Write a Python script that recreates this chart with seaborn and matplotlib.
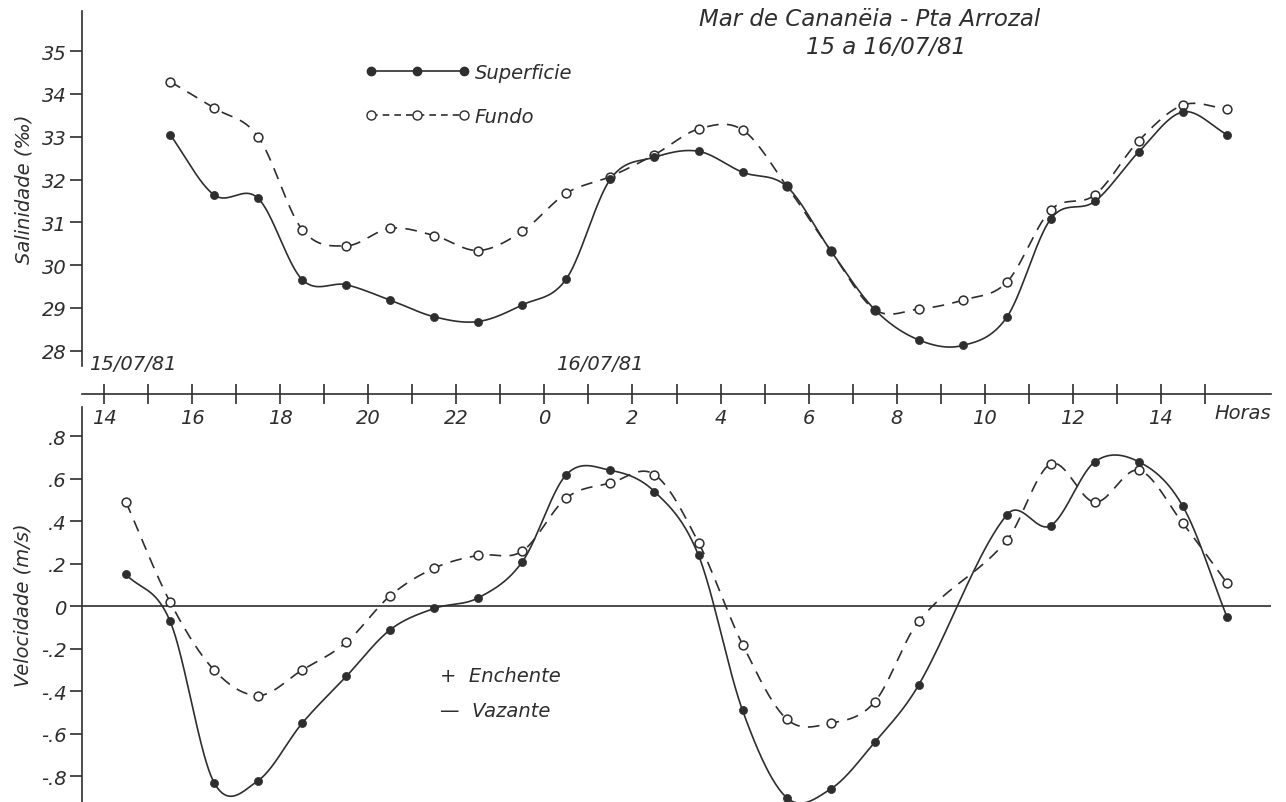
import numpy as np
import matplotlib
matplotlib.use("Agg")
import matplotlib.pyplot as plt
import seaborn as sns
from matplotlib.lines import Line2D

# Hours counted from 14:00 of 15/07/81; readings at half past each hour
hours_sal = np.arange(1.5, 26.0, 1.0)
sal_superficie = [33.05, 31.64, 31.56, 29.66, 29.54, 29.18, 28.79, 28.68, 29.07,
                  29.68, 32.01, 32.52, 32.66, 32.17, 31.84, 30.34, 28.96, 28.25,
                  28.12, 28.78, 31.08, 31.49, 32.65, 33.58, 33.05]
sal_fundo = [34.29, 33.67, 33.00, 30.83, 30.45, 30.86, 30.69, 30.34, 30.79,
             31.68, 32.07, 32.58, 33.18, 33.16, 31.85, 30.34, 28.96, 28.97,
             29.18, 29.60, 31.29, 31.64, 32.91, 33.74, 33.65]

hours_vel = np.arange(0.5, 26.0, 1.0)
vel_superficie = [0.15, -0.07, -0.83, -0.82, -0.55, -0.33, -0.11, -0.01, 0.04,
                  0.21, 0.62, 0.64, 0.54, 0.24, -0.49, -0.90, -0.86, -0.64,
                  -0.37, np.nan, 0.43, 0.38, 0.68, 0.68, 0.47, -0.05]
vel_fundo = [0.49, 0.02, -0.30, -0.42, -0.30, -0.17, 0.05, 0.18, 0.24,
             0.26, 0.51, 0.58, 0.62, 0.30, -0.18, -0.53, -0.55, -0.45,
             -0.07, np.nan, 0.31, 0.67, 0.49, 0.64, 0.39, 0.11]

hour_ticks = list(range(0, 25, 2))
hour_labels = ["14", "16", "18", "20", "22", "0", "2", "4", "6", "8", "10", "12", "14"]
sal_ticks = list(range(28, 36))
vel_ticks = [-0.8, -0.6, -0.4, -0.2, 0.0, 0.2, 0.4, 0.6, 0.8]
vel_tick_labels = ["-.8", "-.6", "-.4", "-.2", "0", ".2", ".4", ".6", ".8"]

INK = "#2e2e2e"
LW = 1.2

sns.set_style("white")
plt.rcParams["font.family"] = ["DejaVu Sans"]
plt.rcParams["font.style"] = "italic"
plt.rcParams["text.color"] = INK
plt.rcParams["axes.labelcolor"] = INK
plt.rcParams["xtick.color"] = INK
plt.rcParams["ytick.color"] = INK


def smooth_curve(x, y, n=40):
    """Cubic Hermite curve through the readings (finite-difference tangents)."""
    x = np.asarray(x, float)
    y = np.asarray(y, float)
    ok = ~np.isnan(y)
    x, y = x[ok], y[ok]
    m = np.empty_like(y)
    m[1:-1] = (y[2:] - y[:-2]) / (x[2:] - x[:-2])
    m[0] = (y[1] - y[0]) / (x[1] - x[0])
    m[-1] = (y[-1] - y[-2]) / (x[-1] - x[-2])
    xs, ys = [], []
    s = np.linspace(0, 1, n, endpoint=False)
    h00 = 2 * s**3 - 3 * s**2 + 1
    h10 = s**3 - 2 * s**2 + s
    h01 = -2 * s**3 + 3 * s**2
    h11 = s**3 - s**2
    for i in range(len(x) - 1):
        h = x[i + 1] - x[i]
        xs.append(x[i] + s * h)
        ys.append(h00 * y[i] + h10 * h * m[i] + h01 * y[i + 1] + h11 * h * m[i + 1])
    xs.append([x[-1]])
    ys.append([y[-1]])
    return np.concatenate(xs), np.concatenate(ys)


def draw_series(ax, x, y, dashed, filled):
    cx, cy = smooth_curve(x, y)
    sns.lineplot(x=cx, y=cy, ax=ax, sort=False, estimator=None,
                 color=INK, linewidth=LW, zorder=2 if dashed else 1.5)
    line = ax.lines[-1]
    if dashed:
        line.set_dashes((7, 5))
    xv = np.asarray(x, float)
    yv = np.asarray(y, float)
    ok = ~np.isnan(yv)
    if filled:
        sns.scatterplot(x=xv[ok], y=yv[ok], ax=ax, s=34, color=INK,
                        edgecolor=INK, linewidth=0.5, zorder=4)
    else:
        sns.scatterplot(x=xv[ok], y=yv[ok], ax=ax, s=40, color="white",
                        edgecolor=INK, linewidth=1.1, zorder=3)


W_PX, H_PX = 1286, 803
fig = plt.figure(figsize=(W_PX / 100, H_PX / 100), dpi=100)

x_left, x_right = 82, 1271
L = x_left / W_PX
W = (x_right - x_left) / W_PX
XLIM = (-0.5, 26.5)

# ---- salinity panel ----
ax1 = fig.add_axes([L, 1 - 367 / H_PX, W, (367 - 12) / H_PX])
ax1.set_xlim(*XLIM)
ax1.set_ylim(27.64, 35.94)
ax1.patch.set_visible(False)
draw_series(ax1, hours_sal, sal_superficie, dashed=False, filled=True)
draw_series(ax1, hours_sal, sal_fundo, dashed=True, filled=False)
for side in ["top", "right", "bottom"]:
    ax1.spines[side].set_visible(False)
ax1.spines["left"].set_color(INK)
ax1.spines["left"].set_linewidth(LW)
ax1.set_xticks([])
ax1.set_yticks(sal_ticks)
ax1.tick_params(axis="y", direction="out", length=9, width=LW, labelsize=14, pad=2, left=True)
ax1.set_ylabel("Salinidade (‰)", fontsize=14, labelpad=6)

legend_handles = [
    Line2D([0], [0], color=INK, lw=LW, marker="o", markersize=6,
           markerfacecolor=INK, markeredgecolor=INK),
    Line2D([0], [0], color=INK, lw=LW, linestyle=(0, (4, 3)), marker="o",
           markersize=6.5, markerfacecolor="white", markeredgecolor=INK),
]
ax1.legend(legend_handles, ["Superficie", "Fundo"], loc="upper left",
           bbox_to_anchor=((357 - x_left) / (x_right - x_left), (367 - 56) / 355),
           frameon=False, numpoints=3, handlelength=5.4, handletextpad=0.25,
           labelspacing=1.3, fontsize=14, borderaxespad=0)

fig.text(870 / W_PX, 1 - 20 / H_PX, "Mar de Cananëia - Pta Arrozal",
         ha="center", va="center", fontsize=16.5)
fig.text(886 / W_PX, 1 - 48 / H_PX, "15 a 16/07/81",
         ha="center", va="center", fontsize=16.5)

# ---- velocity panel ----
ax2 = fig.add_axes([L, 0.0, W, (H_PX - 408) / H_PX])
ax2.set_xlim(*XLIM)
ax2.set_ylim(-0.921, 0.938)
ax2.patch.set_visible(False)
ax2.axhline(0, color=INK, linewidth=LW, zorder=1)
draw_series(ax2, hours_vel, vel_superficie, dashed=False, filled=True)
draw_series(ax2, hours_vel, vel_fundo, dashed=True, filled=False)
for side in ["top", "right", "bottom"]:
    ax2.spines[side].set_visible(False)
ax2.spines["left"].set_color(INK)
ax2.spines["left"].set_linewidth(LW)
ax2.set_xticks([])
ax2.set_yticks(vel_ticks, vel_tick_labels)
ax2.tick_params(axis="y", direction="out", length=9, width=LW, labelsize=14, pad=2, left=True)
ax2.set_ylabel("Velocidade (m/s)", fontsize=14, labelpad=6)
ax2.text((440 - x_left) / (x_right - x_left), (803 - 677) / 395, "+  Enchente",
         transform=ax2.transAxes, ha="left", va="center", fontsize=14)
ax2.text((440 - x_left) / (x_right - x_left), (803 - 712) / 395, "—  Vazante",
         transform=ax2.transAxes, ha="left", va="center", fontsize=14)

# ---- shared time axis between the panels (drawn last, on top) ----
axm = fig.add_axes([L, 1 - 395 / H_PX, W, 0.0005])
axm.set_xlim(*XLIM)
axm.set_ylim(0, 1)
axm.patch.set_visible(False)
for side in ["top", "right", "left"]:
    axm.spines[side].set_visible(False)
axm.spines["bottom"].set_visible(True)
axm.spines["bottom"].set_color(INK)
axm.spines["bottom"].set_linewidth(LW)
axm.set_yticks([])
axm.set_xticks(hour_ticks, hour_labels)
axm.set_xticks(list(range(1, 26, 2)), minor=True)
axm.tick_params(axis="x", which="both", direction="inout", length=14,
                width=LW, labelsize=14, pad=3, bottom=True, labelbottom=True)
axm.annotate("Horas", xy=(1.0, 0.0), xycoords="axes fraction",
             xytext=(0, -13.5), textcoords="offset points",
             ha="right", va="center", fontsize=14)
fig.text(89 / W_PX, 1 - 364 / H_PX, "15/07/81", ha="left", va="center", fontsize=14)
fig.text(556 / W_PX, 1 - 364 / H_PX, "16/07/81", ha="left", va="center", fontsize=14)

fig.savefig("out.png", dpi=100, facecolor="white")
